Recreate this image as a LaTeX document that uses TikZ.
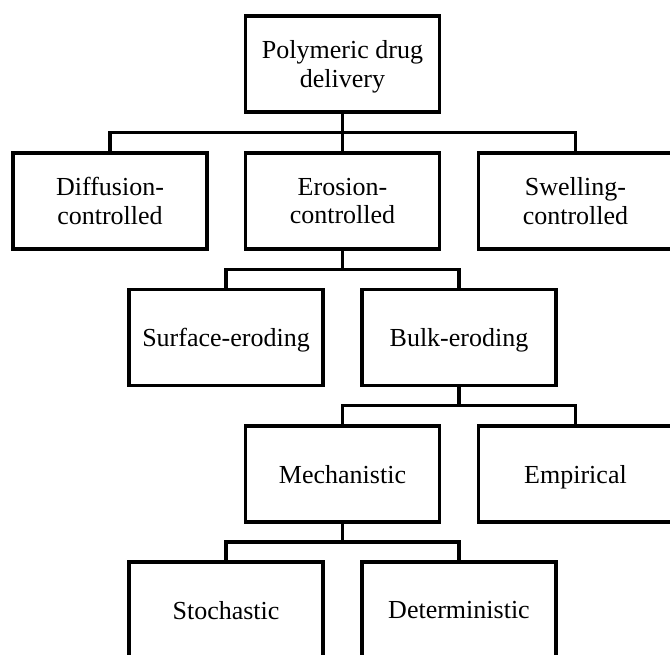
\documentclass[tikz,border=0pt]{standalone}
\usepackage{fontspec}
\setmainfont{Liberation Serif}
\usetikzlibrary{calc}

\begin{document}
\begin{tikzpicture}[
  x=1pt, y=-1pt,
  box/.style={draw, line width=3.2pt, minimum width=194pt, minimum height=96pt,
    inner sep=2pt, align=center, text depth=0pt, font=\fontsize{26}{28.5}\selectfont},
  link/.style={line width=3.2pt}
]
  \clip (0,0) rectangle (670,655);
  % levels of the tree
  \node[box] (root) at (342.5,64) {Polymeric drug\\delivery};
  \node[box] (diff) at (110,201) {Diffusion-\\controlled};
  \node[box] (eros) at (342.5,201) {Erosion-\\controlled};
  \node[box] (swel) at (575.5,201) {Swelling-\\controlled};
  \node[box] (surf) at (226,337.5) {Surface-eroding};
  \node[box] (bulk) at (459,337.5) {Bulk-eroding};
  \node[box] (mech) at (342.5,474) {Mechanistic};
  \node[box] (emp) at (575.5,474) {Empirical};
  \node[box] (stoc) at (226,610) {Stochastic};
  \node[box] (det) at (459,610) {Deterministic};
  % connectors
  \draw[link] (root.south) |- ($(root.south)!.5!(diff.north)$) -| (diff.north);
  \draw[link] (root.south) |- ($(root.south)!.5!(swel.north)$) -| (swel.north);
  \draw[link] (root) -- (eros);
  \draw[link] (eros.south) |- ($(eros.south)!.5!(surf.north)$) -| (surf.north);
  \draw[link] (eros.south) |- ($(eros.south)!.5!(bulk.north)$) -| (bulk.north);
  \draw[link] (bulk.south) |- ($(bulk.south)!.5!(mech.north)$) -| (mech.north);
  \draw[link] (bulk.south) |- ($(bulk.south)!.5!(emp.north)$) -| (emp.north);
  \draw[link] (mech.south) |- ($(mech.south)!.5!(stoc.north)$) -| (stoc.north);
  \draw[link] (mech.south) |- ($(mech.south)!.5!(det.north)$) -| (det.north);
\end{tikzpicture}
\end{document}
